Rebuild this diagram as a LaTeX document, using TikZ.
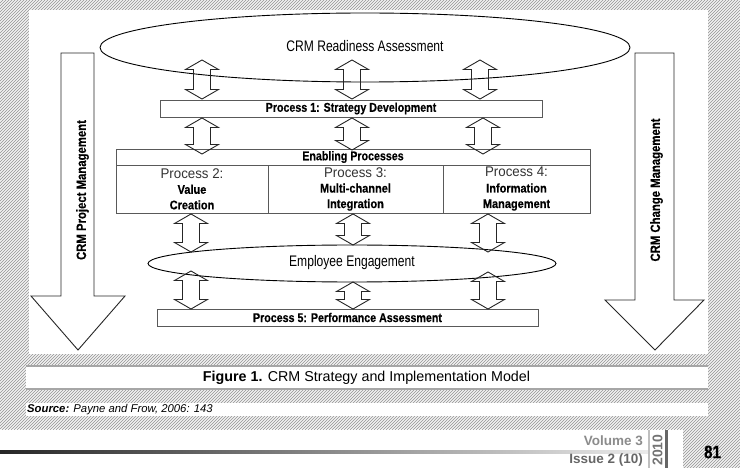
\documentclass[tikz,border=0pt]{standalone}
\usepackage{fontspec}
\setmainfont{Liberation Sans}
\newfontfamily\condfont[FakeStretch=0.84, FakeBold=0.4]{Liberation Sans}
\newfontfamily\cellfont[FakeStretch=0.88, FakeBold=0.4]{Liberation Sans}
\newfontfamily\condreg[FakeStretch=0.79]{Liberation Sans}
\newfontfamily\lightfont[FakeStretch=0.95]{Liberation Sans}
\usetikzlibrary{patterns,shapes.geometric,calc}
\tikzset{
 hatch/.style={pattern=north east lines, pattern color=black!42},
 procbox/.style={draw=black!65, line width=0.8pt, inner sep=0pt, font=\condfont\bfseries\fontsize{12.7}{14}\selectfont},
 ellbox/.style={ellipse, draw=black, line width=0.9pt, inner sep=0pt},
 elltext/.style={font=\condreg\fontsize{15.3}{17}\selectfont},
 cellbox/.style={draw=black!65, line width=0.8pt, inner sep=0pt},
 celltext/.style={align=center, inner sep=0pt, font=\cellfont\bfseries\fontsize{12.5}{15.5}\selectfont},
 fatline/.style={draw=black!85, line width=0.9pt, line join=miter},
 bigarrow/.style={draw=black!85, line width=0.9pt, line join=miter},
 sidetext/.style={rotate=90, font=\condfont\bfseries\fontsize{13.5}{15}\selectfont},
}
\newcommand\fatarr[2]{\draw[fatline] let \p1=(#1), \p2=(#2) in
 (\x1,\y1) -- (\x1+16.5pt,\y1-9.5pt) -- (\x1+8.5pt,\y1-9.5pt) -- (\x1+8.5pt,\y2+9.5pt)
 -- (\x1+16.5pt,\y2+9.5pt) -- (\x1,\y2) -- (\x1-16.5pt,\y2+9.5pt) -- (\x1-8.5pt,\y2+9.5pt)
 -- (\x1-8.5pt,\y1-9.5pt) -- (\x1-16.5pt,\y1-9.5pt) -- cycle;}
\begin{document}
\begin{tikzpicture}[x=1pt,y=-1pt]
\useasboundingbox (0,0) rectangle (740,468);
\fill[white] (0,0) rectangle (740,468);
% hatched page frame
\fill[black!5] (0,0) rectangle (740,429);
\fill[hatch] (0,0) rectangle (740,429);
\fill[white] (29,10) rectangle (708,354);
\fill[white] (26,366) rectangle (708,389);
\draw[black!35, line width=1.6pt] (26,366) -- (708,366);
\draw[black!35, line width=1.6pt] (26,389) -- (708,389);
\fill[white] (26,403) rectangle (708,416);

% big side arrows
\draw[bigarrow] (61,53) -- (94,53) -- (94,296) -- (125,296) -- (78,350) -- (31,296) -- (61,296) -- cycle;
\node[sidetext] (pm) at (82.5,190) {CRM Project Management};
\draw[bigarrow] (635,53) -- (674,53) -- (674,300) -- (704,300) -- (655,350) -- (605,300) -- (635,300) -- cycle;
\node[sidetext] (cm) at (656.5,190) {CRM Change Management};

% ellipses
\node[ellbox, minimum width=530, minimum height=69] (ra) at (365,47.5) {};
\node[elltext] (rat) at (365,46) {CRM Readiness Assessment};
\node[ellbox, minimum width=408, minimum height=37] (ee) at (352,263.5) {};
\node[elltext] (eet) at (352,262.5) {Employee Engagement};

% process boxes
\node[procbox, minimum width=382, minimum height=17] (p1) at (351,108.5) {Process 1: Strategy Development};
\node[procbox, minimum width=474, minimum height=16] (en) at (353,157) {Enabling Processes};
\node[cellbox, minimum width=152, minimum height=48] (c1) at (192,189) {};
\node[cellbox, minimum width=175, minimum height=48] (c2) at (355.5,189) {};
\node[cellbox, minimum width=147, minimum height=48] (c3) at (516.5,189) {};
\node[celltext] (t1) at (c1) {{\lightfont\mdseries\color{black!80}\fontsize{14}{15.5}\selectfont Process 2:}\\Value\\Creation};
\node[celltext] (t2) at (c2) {{\lightfont\mdseries\color{black!80}\fontsize{14}{15.5}\selectfont Process 3:}\\Multi-channel\\Integration};
\node[celltext] (t3) at (c3) {{\lightfont\mdseries\color{black!80}\fontsize{14}{15.5}\selectfont Process 4:}\\Information\\Management};
\node[procbox, minimum width=381, minimum height=17] (p5) at (347.5,317.5) {Process 5: Performance Assessment};

% double arrows
\coordinate (a1t) at (202,60);  \coordinate (a1b) at (202,99);
\coordinate (a2t) at (352,60);  \coordinate (a2b) at (352,99);
\coordinate (a3t) at (480,60);  \coordinate (a3b) at (480,99);
\coordinate (b1t) at (202,118); \coordinate (b1b) at (202,154);
\coordinate (b2t) at (352,118); \coordinate (b2b) at (352,150);
\coordinate (b3t) at (483,118); \coordinate (b3b) at (483,154);
\coordinate (d1t) at (191,214); \coordinate (d1b) at (191,252);
\coordinate (d2t) at (353,214); \coordinate (d2b) at (353,245);
\coordinate (d3t) at (488,214); \coordinate (d3b) at (488,252);
\coordinate (e1t) at (191,271); \coordinate (e1b) at (191,309);
\coordinate (e2t) at (353,282); \coordinate (e2b) at (353,309);
\coordinate (e3t) at (488,272); \coordinate (e3b) at (488,309);
\fatarr{a1t}{a1b}\fatarr{a2t}{a2b}\fatarr{a3t}{a3b}
\fatarr{b1t}{b1b}\fatarr{b2t}{b2b}\fatarr{b3t}{b3b}
\fatarr{d1t}{d1b}\fatarr{d2t}{d2b}\fatarr{d3t}{d3b}
\fatarr{e1t}{e1b}\fatarr{e2t}{e2b}\fatarr{e3t}{e3b}

% caption and source
\node[font=\fontsize{14.3}{16}\selectfont] (cap) at (366.5,378) {\textbf{Figure 1.} CRM Strategy and Implementation Model};
\node[anchor=west, inner sep=0pt, font=\fontsize{11.3}{13}\selectfont] (src) at (27,409.5) {\textbf{\textit{Source:}} \textit{Payne and Frow, 2006: 143}};

% footer
\shade[left color=black!85, right color=black!8] (0,450.5) rectangle (648,453.5);
\node[anchor=east, inner sep=0pt, text=black!45, font=\bfseries\fontsize{13.5}{15}\selectfont] (vol) at (643,441) {Volume 3};
\node[anchor=east, inner sep=0pt, text=black!60, font=\bfseries\fontsize{13.5}{15}\selectfont] (iss) at (643,460) {Issue 2 (10)};
\draw[black!25, line width=2pt] (649,430) -- (649,468);
\draw[black!60, line width=2.5pt] (666.5,430) -- (666.5,468);
\node[rotate=90, inner sep=0pt, text=black!55, font=\bfseries\fontsize{14}{15}\selectfont] (yr) at (657.5,450) {2010};
\fill[black!5] (683,428) rectangle (740,468);
\fill[hatch] (683,428) rectangle (740,468);
\node[font=\condfont\bfseries\fontsize{18}{19}\selectfont] (pg) at (712.5,452) {81};
\end{tikzpicture}
\end{document}
